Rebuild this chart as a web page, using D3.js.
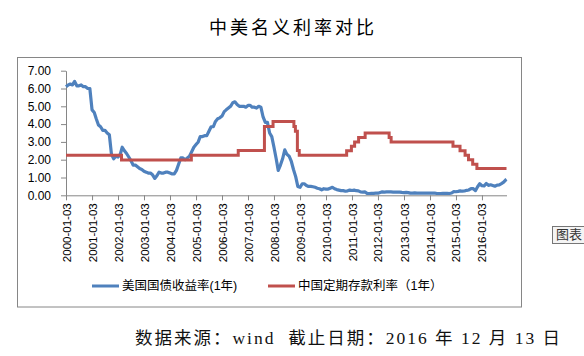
<!DOCTYPE html>
<html>
<head>
<meta charset="utf-8">
<script src="https://cdn.jsdelivr.net/npm/d3@7/dist/d3.min.js"></script>
<style>
  html, body { margin: 0; padding: 0; background: #fff; }
  svg { display: block; }
</style>
</head>
<body>
<svg id="chart" width="584" height="356"></svg>
<script>
// ---- Data ----
const title = "中美名义利率对比";
const source = "数据来源：wind  截止日期：2016 年 12 月 13 日";
const seriesNames = ["美国国债收益率(1年)", "中国定期存款利率（1年）"];
const yTicks = [0, 1, 2, 3, 4, 5, 6, 7];
const xTickLabels = ["2000-01-03","2001-01-03","2002-01-03","2003-01-03","2004-01-03","2005-01-03",
  "2006-01-03","2007-01-03","2008-01-03","2009-01-03","2010-01-03","2011-01-03","2012-01-03",
  "2013-01-03","2014-01-03","2015-01-03","2016-01-03"];
const startDate = "2000-01-03";
const endDate = "2016-12-13";

// US 1-year treasury yield, one value per month from 2000-01 to 2016-12
const usYield = [
  6.10, 6.20, 6.25, 6.20, 6.40, 6.15, 6.15, 6.20, 6.10, 6.10, 6.00, 6.00,
  4.80, 4.65, 4.30, 3.95, 3.85, 3.65, 3.65, 3.50, 3.40, 2.30, 2.05, 2.20,
  2.15, 2.30, 2.70, 2.50, 2.35, 2.15, 1.95, 1.70, 1.70, 1.60, 1.50, 1.45,
  1.35, 1.30, 1.25, 1.25, 1.15, 0.95, 1.10, 1.30, 1.25, 1.25, 1.30, 1.30,
  1.25, 1.20, 1.20, 1.40, 1.75, 2.10, 2.10, 2.00, 2.10, 2.20, 2.45, 2.70,
  2.85, 3.00, 3.30, 3.30, 3.35, 3.35, 3.60, 3.85, 3.85, 4.15, 4.30, 4.35,
  4.45, 4.70, 4.80, 4.90, 5.00, 5.20, 5.25, 5.10, 5.00, 5.00, 5.00, 4.95,
  5.05, 5.05, 4.95, 4.95, 4.90, 5.00, 4.95, 4.40, 4.10, 4.10, 3.50, 3.30,
  2.70, 2.05, 1.40, 1.70, 2.05, 2.55, 2.30, 2.20, 1.90, 1.45, 1.05, 0.50,
  0.45, 0.65, 0.65, 0.55, 0.50, 0.50, 0.48, 0.45, 0.40, 0.37, 0.31, 0.37,
  0.35, 0.35, 0.40, 0.45, 0.37, 0.32, 0.29, 0.26, 0.26, 0.23, 0.25, 0.29,
  0.27, 0.29, 0.26, 0.25, 0.19, 0.18, 0.19, 0.11, 0.10, 0.11, 0.11, 0.12,
  0.12, 0.16, 0.19, 0.18, 0.19, 0.19, 0.19, 0.18, 0.18, 0.18, 0.18, 0.16,
  0.15, 0.16, 0.15, 0.12, 0.12, 0.14, 0.12, 0.13, 0.12, 0.12, 0.12, 0.13,
  0.12, 0.12, 0.13, 0.11, 0.10, 0.10, 0.11, 0.11, 0.11, 0.10, 0.13, 0.21,
  0.20, 0.22, 0.25, 0.23, 0.24, 0.28, 0.30, 0.38, 0.37, 0.26, 0.48, 0.65,
  0.54, 0.53, 0.66, 0.56, 0.59, 0.55, 0.51, 0.57, 0.59, 0.66, 0.74, 0.87
];
const usLast = 0.90;

// China 1-year deposit rate change dates and rates
const cnDates = ["2000-01-03","2002-02-21","2004-10-29","2006-08-19","2007-08-22","2007-12-21",
  "2008-10-09","2008-10-30","2008-11-27","2008-12-23","2010-10-20","2010-12-26","2011-02-09",
  "2011-04-06","2011-07-07","2012-06-08","2012-07-06","2014-11-22","2015-03-01","2015-05-11",
  "2015-06-28","2015-08-26","2015-10-24"];
const cnRates = [2.25, 1.98, 2.25, 2.52, 3.87, 4.14, 3.87, 3.60, 2.52, 2.25, 2.50, 2.75, 3.00,
  3.25, 3.50, 3.25, 3.00, 2.75, 2.50, 2.25, 2.00, 1.75, 1.50];

const colors = ["#4F81BD", "#C0504D"];

// ---- Chart ----
const svg = d3.select("#chart");
const parse = d3.timeParse("%Y-%m-%d");
const t0 = parse(startDate), t1 = parse(endDate);

const x = d3.scaleTime().domain([t0, t1]).range([66, 506.5]);
const y = d3.scaleLinear().domain([0, 7]).range([195.3, 70.7]);

// chart-area border
svg.append("rect").attr("x", 17.5).attr("y", 57.5).attr("width", 504).attr("height", 249.5)
  .attr("fill", "#fff").attr("stroke", "#868686").attr("stroke-width", 1);

// title
svg.append("text").attr("x", 293).attr("y", 34).attr("text-anchor", "middle")
  .style("font-family", "'Noto Sans CJK SC', sans-serif").style("font-size", "18px")
  .style("letter-spacing", "3px").attr("fill", "#000").text(title);

// y axis
const yAxis = svg.append("g").attr("transform", "translate(66,0)")
  .call(d3.axisLeft(y).tickValues(yTicks).tickFormat(d3.format(".2f")).tickSize(5).tickSizeOuter(0).tickPadding(10));
yAxis.selectAll("text").style("font-family", "'Liberation Sans', Arial, sans-serif").style("font-size", "12px").attr("fill", "#000");

// x axis
const xAxis = svg.append("g").attr("transform", "translate(0,195.3)")
  .call(d3.axisBottom(x).tickValues(xTickLabels.map(parse)).tickFormat(d3.timeFormat("%Y-%m-%d")).tickSize(5).tickSizeOuter(0));
xAxis.selectAll("text")
  .attr("transform", "rotate(-90)").attr("x", -8).attr("y", 0).attr("dy", "0.35em")
  .style("text-anchor", "end")
  .style("font-family", "'Liberation Sans', Arial, sans-serif").style("font-size", "11.5px").attr("fill", "#000");
[yAxis, xAxis].forEach(a => { a.selectAll("path, line").attr("stroke", "#868686"); });

// US series
const usData = usYield.map((v, i) => ({ d: d3.timeMonth.offset(t0, i), v }));
usData.push({ d: t1, v: usLast });
svg.append("path").datum(usData)
  .attr("fill", "none").attr("stroke", colors[0]).attr("stroke-width", 3.2).attr("stroke-linejoin", "round")
  .attr("d", d3.line().x(p => x(p.d)).y(p => y(p.v)));

// China series
const cnData = cnDates.map((s, i) => ({ d: parse(s), v: cnRates[i] }));
cnData.push({ d: t1, v: cnRates[cnRates.length - 1] });
svg.append("path").datum(cnData)
  .attr("fill", "none").attr("stroke", colors[1]).attr("stroke-width", 3)
  .attr("d", d3.line().curve(d3.curveStepAfter).x(p => x(p.d)).y(p => y(p.v)));

// legend
const legendX = [92, 268];
seriesNames.forEach((name, i) => {
  svg.append("line").attr("x1", legendX[i]).attr("x2", legendX[i] + 27).attr("y1", 286).attr("y2", 286)
    .attr("stroke", colors[i]).attr("stroke-width", 3);
  svg.append("text").attr("x", legendX[i] + 30).attr("y", 286).attr("dy", "0.35em")
    .style("font-family", "'Liberation Sans', 'Noto Sans CJK SC', sans-serif").style("font-size", "12.5px")
    .attr("fill", "#000").text(name);
});

// source note
svg.append("text").attr("x", 135).attr("y", 344)
  .attr("textLength", 425).attr("lengthAdjust", "spacing")
  .style("white-space", "pre")
  .style("font-family", "'Liberation Serif', 'Noto Sans CJK SC', serif").style("font-size", "17.5px")
  .attr("fill", "#111").text(source);

// "图表区" tooltip (cut off by the window's right edge)
svg.append("rect").attr("x", 552.5).attr("y", 226.5).attr("width", 60).attr("height", 17)
  .attr("fill", "#f4f4f4").attr("stroke", "#767676");
svg.append("text").attr("x", 556).attr("y", 239)
  .style("font-family", "'Noto Sans CJK SC', sans-serif").style("font-size", "13px")
  .attr("fill", "#333").text("图表");
</script>
</body>
</html>
